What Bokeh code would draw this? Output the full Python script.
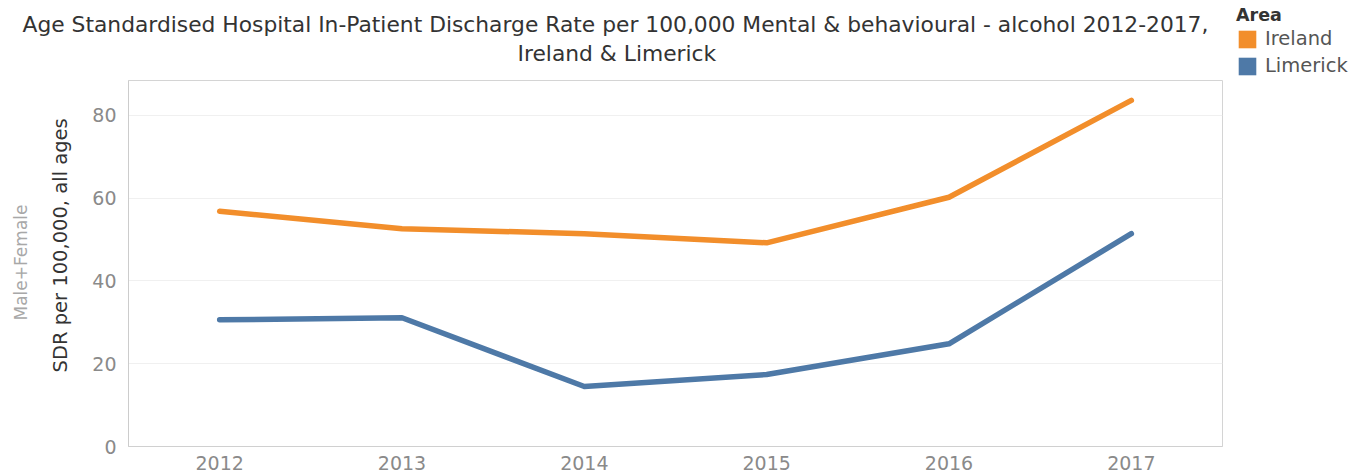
from bokeh.plotting import figure
from bokeh.models import Range1d, FactorRange, FixedTicker, Title, Legend, LegendItem
from bokeh.embed import file_html
from bokeh.resources import INLINE

years = ["2012", "2013", "2014", "2015", "2016", "2017"]
ireland = [56.8, 52.6, 51.4, 49.2, 60.2, 83.6]
limerick = [30.6, 31.1, 14.5, 17.4, 24.8, 51.4]
y_ticks = [0, 20, 40, 60, 80]

title_1 = "Age Standardised Hospital In-Patient Discharge Rate per 100,000 Mental & behavioural - alcohol 2012-2017,"
title_2 = "Ireland & Limerick"
y_label = "SDR per 100,000, all ages"
y_label_2 = "Male+Female"
legend_title = "Area"

ORANGE = "#F28E2B"
BLUE = "#4E79A7"
FONT = "DejaVu Sans"

FW, FH = 1094, 366
p = figure(x_range=FactorRange(*years), y_range=Range1d(0, 88.4),
           frame_width=FW, frame_height=FH,
           min_border_left=128, min_border_right=120, min_border_top=80, min_border_bottom=27,
           output_backend="svg", toolbar_location=None, background_fill_color="white")

p.line(years, ireland, line_color=ORANGE, line_width=5.5, line_cap="round", line_join="round")
p.line(years, limerick, line_color=BLUE, line_width=5.5, line_cap="round", line_join="round")

# legend swatches (hidden renderers, shown only in the legend)
r_ire = p.rect(x=years, y=ireland, width=0, height=0, fill_color=ORANGE, line_color=None, visible=False)
r_lim = p.rect(x=years, y=limerick, width=0, height=0, fill_color=BLUE, line_color=None, visible=False)
leg = Legend(items=[LegendItem(label="Ireland", renderers=[r_ire]),
                    LegendItem(label="Limerick", renderers=[r_lim])],
             location=(14, 369), title=legend_title,
             title_text_font=FONT, title_text_font_style="bold", title_text_font_size="17.5px",
             title_text_color="#333333", title_standoff=2,
             label_text_font=FONT, label_text_font_size="19.5px", label_text_color="#555555",
             glyph_width=22, glyph_height=22, label_height=22, spacing=4, label_standoff=7,
             padding=5, margin=0, border_line_color=None, background_fill_alpha=0,
             inactive_fill_alpha=0)
p.add_layout(leg, "right")

# axes
p.yaxis.ticker = FixedTicker(ticks=y_ticks)
p.yaxis.major_tick_line_color = None
p.yaxis.minor_tick_line_color = None
p.yaxis.major_label_standoff = 6
p.yaxis.major_label_text_font = FONT
p.yaxis.major_label_text_font_size = "19px"
p.yaxis.major_label_text_color = "#8a8a8a"
p.yaxis.axis_line_color = "#cccccc"

p.xaxis.major_tick_line_color = None
p.xaxis.major_label_standoff = 3
p.xaxis.major_label_text_font = FONT
p.xaxis.major_label_text_font_size = "19px"
p.xaxis.major_label_text_color = "#8a8a8a"
p.xaxis.axis_line_color = "#d0d0d0"

p.xgrid.grid_line_color = None
p.ygrid.grid_line_color = "#f0f0f0"
p.ygrid.grid_line_width = 1
p.outline_line_color = "#d4d4d4"
p.outline_line_width = 1

# titles (line nearest the plot first)
p.add_layout(Title(text=title_2, align="left", offset=389, standoff=25, vertical_align="top",
                   text_font=FONT, text_font_size="21.8px", text_font_style="normal",
                   text_color="#333333"), "above")
p.add_layout(Title(text=title_1, align="left", offset=-106, standoff=-17,
                   text_font=FONT, text_font_size="21.8px", text_font_style="normal",
                   text_color="#333333"), "above")

# y labels as left-side titles
p.add_layout(Title(text=y_label, align="left", offset=74, standoff=36,
                   text_font=FONT, text_font_size="19.5px", text_font_style="normal",
                   text_color="#333333"), "left")
p.add_layout(Title(text=y_label_2, align="left", offset=126, standoff=-4,
                   text_font=FONT, text_font_size="17px", text_font_style="normal",
                   text_color="#a8a8a8"), "left")

open("out.html", "w").write(file_html(p, INLINE))
